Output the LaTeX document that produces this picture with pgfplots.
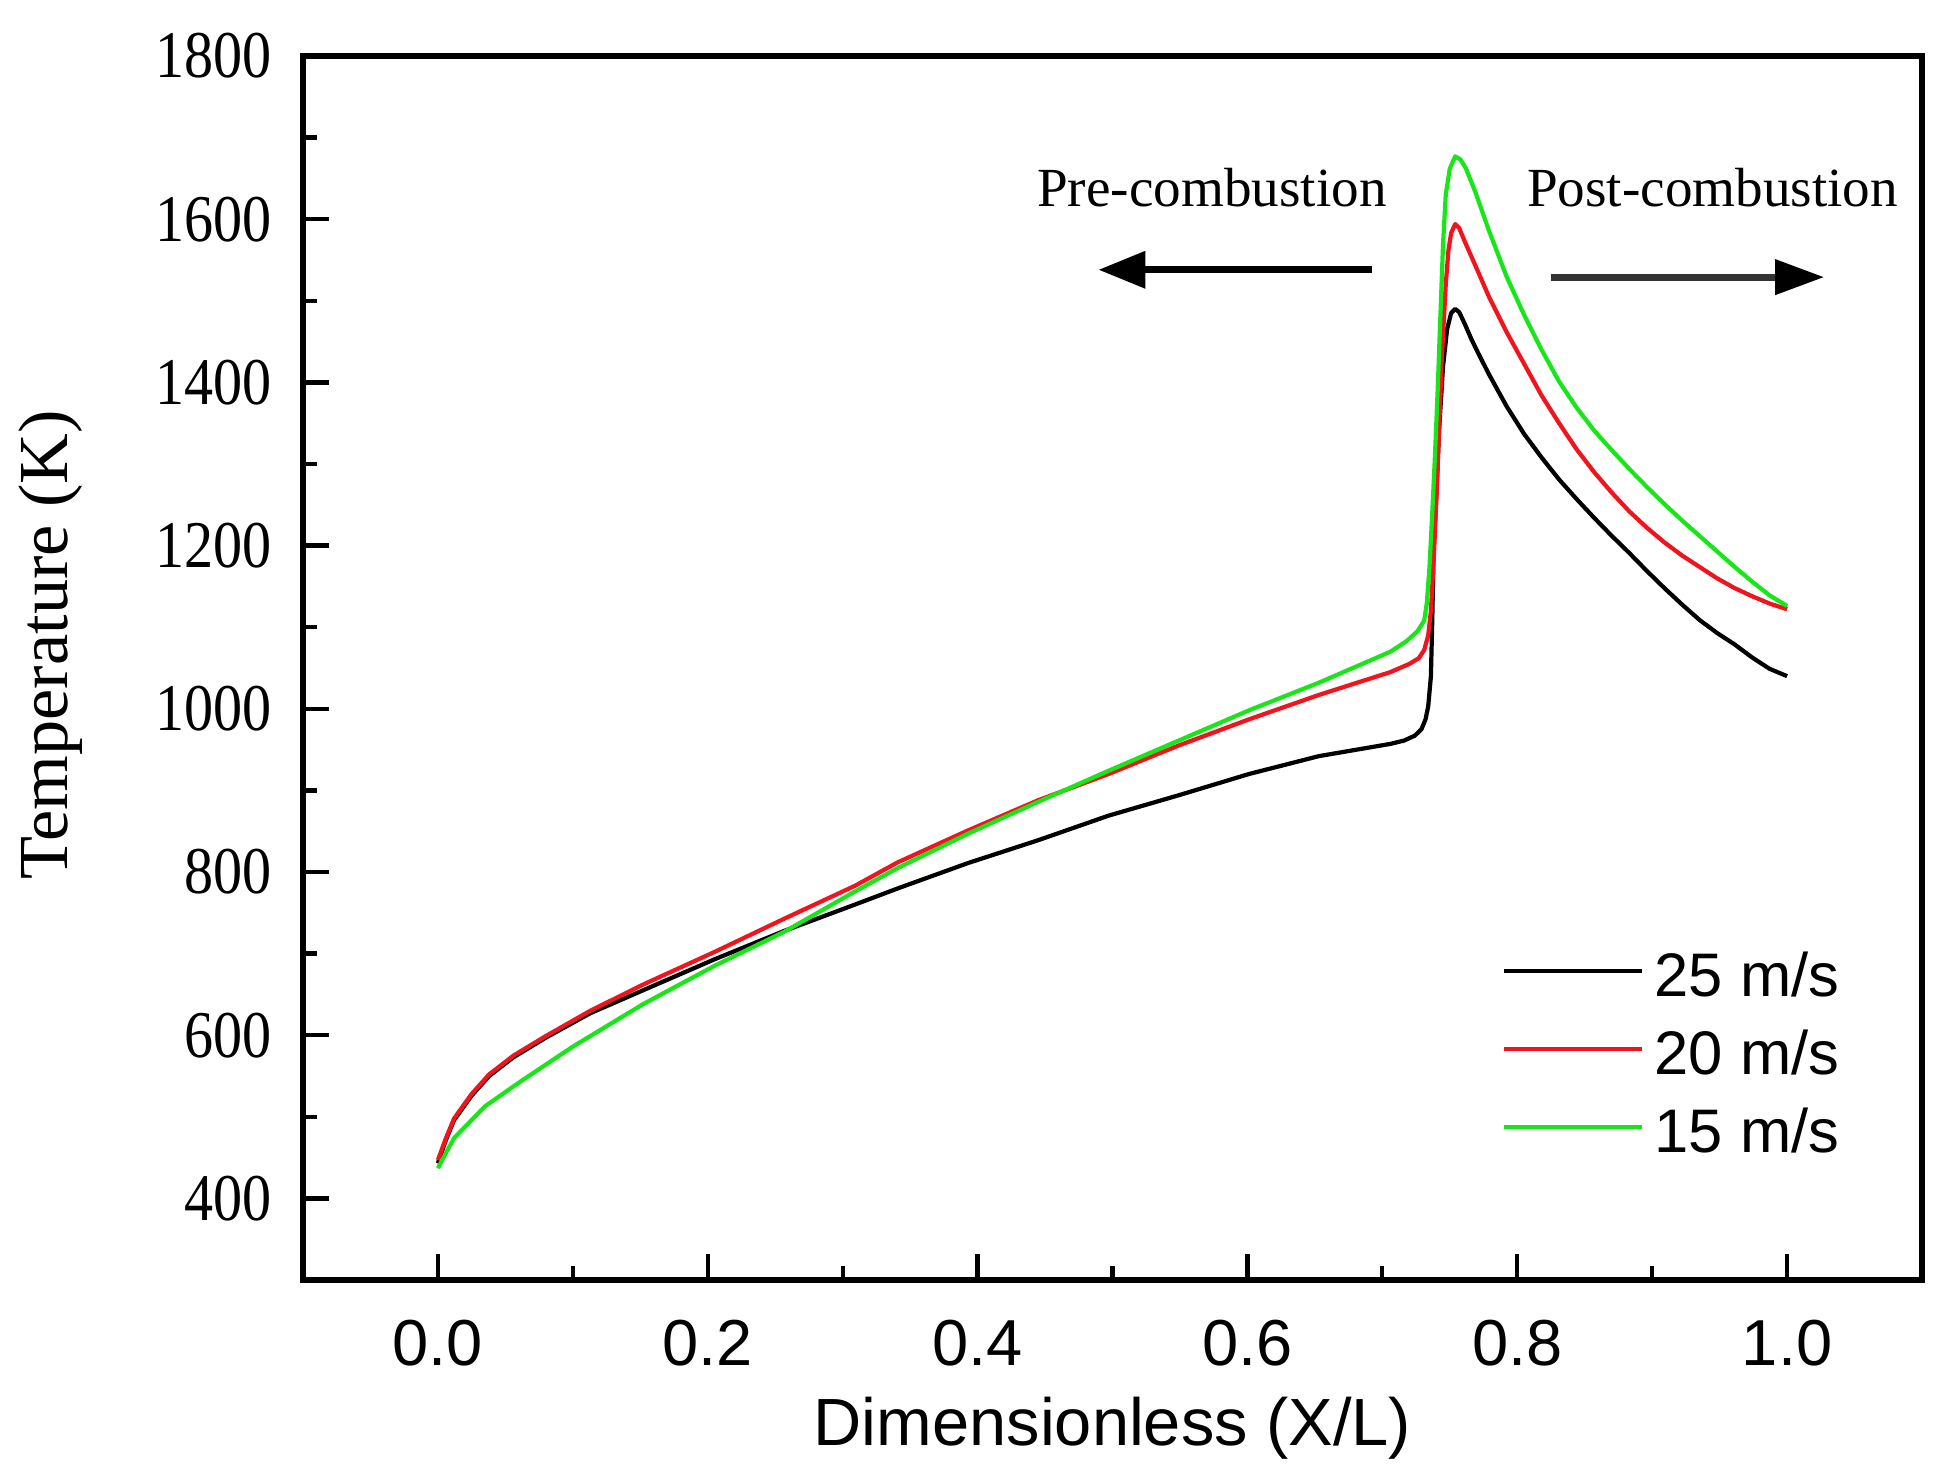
\documentclass[border=0pt]{standalone}
\usepackage{fontspec}
\setmainfont{Liberation Serif}
\newfontfamily\arial{Liberation Sans}
\newfontfamily\tickserif{Liberation Serif}[FakeStretch=0.87]
\usepackage{pgfplots}
\pgfplotsset{compat=1.18}
\usetikzlibrary{arrows.meta}
\definecolor{cgreen}{RGB}{25,230,25}
\definecolor{cred}{RGB}{240,20,30}
\begin{document}
\begin{tikzpicture}
\begin{axis}[name=ax, scale only axis, width=16.19cm, height=12.24cm,
  xmin=-0.1, xmax=1.1, ymin=300, ymax=1800,
  xtick={0,0.2,0.4,0.6,0.8,1.0}, xticklabels={0.0,0.2,0.4,0.6,0.8,1.0},
  ytick={400,600,800,1000,1200,1400,1600,1800},
  yticklabels={400,600,800,1000,1200,1400,1600,1800},
  minor x tick num=1, minor y tick num=1,
  tick pos=left, tick align=inside,
  major tick length=0.26cm, minor tick length=0.14cm,
  line width=1.8pt,
  tick style={line width=1.2pt, black},
  xticklabel style={font=\fontsize{18.5}{22}\arial, inner sep=0pt, yshift=-0.37cm},
  yticklabel style={font=\fontsize{19}{22}\tickserif, inner sep=0pt, xshift=-0.28cm},
  xlabel={Dimensionless (X/L)},
  xlabel style={at={(axis description cs:0.5,0)}, anchor=north, yshift=-1.14cm, inner sep=0pt, font=\fontsize{19}{22}\arial},
  ylabel={Temperature (K)},
  ylabel style={at={(axis description cs:-0.134,0.519)}, anchor=south, inner sep=0pt, font=\fontsize{20}{24}\selectfont},
  legend style={draw=none, fill=none, at={(axis cs:0.786,705)}, anchor=north west,
    font=\fontsize{17.5}{21}\arial, inner sep=0pt, row sep=9.7pt, column sep=0.11cm,
    nodes={inner sep=0pt, text height=12.5pt, text depth=0pt}},
  legend cell align=left,
  legend image code/.code={\draw[#1] (0cm,1pt) -- (1.38cm,1pt);},
]
\addplot[black, line width=1.2pt, line join=round] coordinates {
(0.000,443) (0.006,472) (0.012,496) (0.025,526) (0.038,550) (0.056,573) (0.080,597)
(0.113,627) (0.152,655) (0.205,693) (0.257,728) (0.309,760) (0.341,780) (0.393,811)
(0.445,839) (0.497,869) (0.549,894) (0.601,920) (0.653,942) (0.706,957) (0.716,961)
(0.724,967) (0.729,975) (0.732,987) (0.734,1003) (0.736,1040) (0.737,1109) (0.738,1195)
(0.740,1260) (0.742,1340) (0.745,1420) (0.748,1465) (0.751,1485) (0.754,1490) (0.757,1486)
(0.761,1472) (0.766,1453) (0.771,1436) (0.779,1410) (0.792,1371) (0.805,1337) (0.818,1308)
(0.831,1281) (0.844,1257) (0.857,1234) (0.870,1212) (0.883,1191) (0.896,1169) (0.909,1148)
(0.922,1128) (0.935,1109) (0.948,1093) (0.961,1079) (0.974,1063) (0.987,1049) (1.000,1040)
};
\addlegendentry{25 m/s}
\addplot[cred, line width=1.2pt, line join=round] coordinates {
(0.000,447) (0.006,474) (0.012,498) (0.025,528) (0.038,552) (0.056,575) (0.080,599)
(0.113,630) (0.152,662) (0.205,702) (0.257,743) (0.309,783) (0.341,812) (0.393,851)
(0.445,888) (0.497,920) (0.549,955) (0.601,987) (0.653,1017) (0.706,1045) (0.720,1055)
(0.727,1062) (0.731,1072) (0.734,1090) (0.736,1120) (0.738,1180) (0.740,1255) (0.742,1340)
(0.744,1427) (0.747,1520) (0.749,1562) (0.751,1583) (0.754,1594) (0.757,1589) (0.761,1573)
(0.765,1558) (0.769,1543) (0.779,1505) (0.792,1462) (0.805,1423) (0.818,1384) (0.831,1350)
(0.844,1318) (0.857,1290) (0.870,1265) (0.883,1242) (0.896,1222) (0.909,1204) (0.922,1188)
(0.935,1174) (0.948,1160) (0.961,1148) (0.974,1138) (0.987,1129) (1.000,1122)
};
\addlegendentry{20 m/s}
\addplot[cgreen, line width=1.2pt, line join=round] coordinates {
(0.000,437) (0.006,456) (0.012,474) (0.035,513) (0.061,543) (0.100,586) (0.152,638)
(0.205,685) (0.257,727) (0.309,776) (0.341,805) (0.393,847) (0.445,886) (0.497,924)
(0.549,961) (0.601,998) (0.653,1032) (0.706,1070) (0.718,1083) (0.726,1095) (0.731,1108)
(0.733,1130) (0.735,1175) (0.737,1240) (0.739,1310) (0.741,1390) (0.743,1480) (0.745,1570)
(0.747,1630) (0.750,1662) (0.754,1677) (0.758,1673) (0.762,1662) (0.769,1633) (0.779,1586)
(0.792,1530) (0.805,1483) (0.818,1440) (0.831,1401) (0.844,1369) (0.857,1341) (0.870,1317)
(0.883,1294) (0.896,1272) (0.909,1251) (0.922,1231) (0.935,1212) (0.948,1193) (0.961,1174)
(0.974,1156) (0.987,1139) (1.000,1126)
};
\addlegendentry{15 m/s}
\node[anchor=base east, inner sep=0pt, font=\fontsize{15.7}{18}\selectfont] at (axis cs:0.7055,1616) {Pre-combustion};
\node[anchor=base west, inner sep=0pt, font=\fontsize{15.7}{18}\selectfont] at (axis cs:0.805,1616) {Post-combustion};
\draw[line width=2pt, black, -{Triangle[length=0.47cm, width=0.36cm]}] (axis cs:0.692,1538) -- (axis cs:0.4896,1538);
\draw[line width=2pt, black!80, -{Triangle[length=0.49cm, width=0.34cm, color=black]}] (axis cs:0.825,1529) -- (axis cs:1.0275,1529);
\end{axis}
\pgfresetboundingbox
\path[use as bounding box] ([xshift=-3.03cm,yshift=-2.01cm]ax.south west) rectangle ([xshift=0.21cm,yshift=0.56cm]ax.north east);
\end{tikzpicture}
\end{document}
